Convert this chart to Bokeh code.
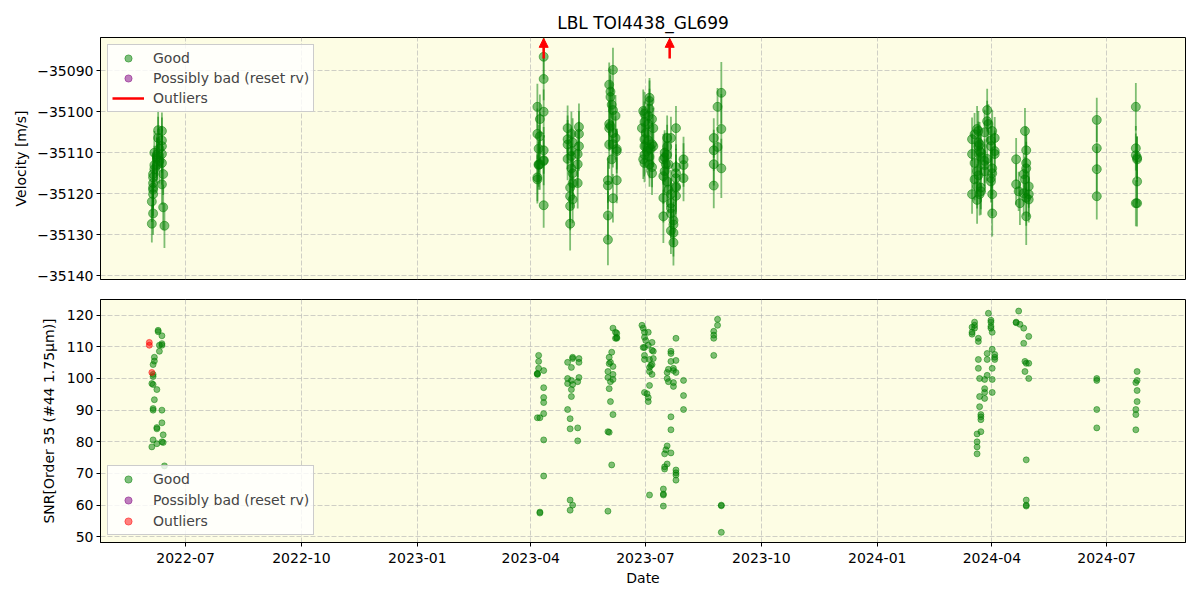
import numpy as np
import pandas as pd
from bokeh.plotting import figure
from bokeh.models import (ColumnDataSource, Range1d, FixedTicker, MonthsTicker,
                          DatetimeTickFormatter, Legend, LegendItem, Arrow, NormalHead)
from bokeh.layouts import column
from bokeh.embed import file_html
from bokeh.resources import INLINE

# ---------------- data ----------------
title_text = "LBL TOI4438_GL699"

# 2022 June block
dates_a = ["2022-06-09", "2022-06-09", "2022-06-12", "2022-06-12", "2022-06-12", "2022-06-10",
           "2022-06-10", "2022-06-06", "2022-06-06", "2022-06-05", "2022-06-05", "2022-06-05",
           "2022-06-04", "2022-06-05", "2022-06-08", "2022-06-06", "2022-06-05", "2022-06-05",
           "2022-06-12", "2022-06-12", "2022-06-08", "2022-06-08", "2022-06-13", "2022-06-05",
           "2022-06-08", "2022-06-12", "2022-06-13", "2022-06-04", "2022-06-14"]
rv_a = [-35104.5, -35106.4, -35104.7, -35108.4, -35110.3, -35112.0, -35109.0, -35110.0, -35113.0,
        -35115.2, -35117.4, -35120.1, -35121.9, -35119.0, -35111.5, -35114.0, -35116.0, -35118.5,
        -35112.5, -35107.0, -35111.0, -35113.0, -35115.2, -35124.8, -35110.5, -35117.7, -35123.3,
        -35127.3, -35127.8]
err_a = [4.8, 5.2, 4.5, 5.0, 4.6, 5.5, 4.9, 5.3, 4.7, 5.1, 4.6, 5.4, 5.0, 4.8, 5.2, 4.6, 5.0, 4.9,
         5.3, 5.6, 4.7, 4.5, 5.1, 5.2, 4.8, 5.0, 5.5, 4.6, 5.4]
snr_a = [115.2, 114.8, 113.5, 111.0, 110.5, 110.5, 108.6, 106.7, 105.5, 104.4, 101.3, 100.6, 98.4,
         98.1, 96.5, 93.3, 90.5, 90.0, 90.0, 86.0, 84.1, 84.5, 82.2, 80.6, 79.4, 80.0, 79.8, 78.4,
         72.4]

# 2023 April block
dates_b1 = ["2023-04-07", "2023-04-07", "2023-04-07", "2023-04-11", "2023-04-06", "2023-04-06",
            "2023-04-06", "2023-04-11", "2023-04-11", "2023-04-11", "2023-04-11", "2023-04-06",
            "2023-04-08", "2023-04-11", "2023-04-11", "2023-04-08", "2023-04-08"]
rv_b1 = [-35109.0, -35112.8, -35113.0, -35092.0, -35098.8, -35105.4, -35116.5, -35100.0, -35109.4,
         -35111.8, -35122.8, -35116.0, -35101.8, -35086.6, -35112.0, -35106.0, -35112.8]
err_b1 = [5.8, 5.5, 6.0, 5.2, 5.6, 6.2, 5.9, 5.4, 5.7, 6.1, 5.5, 5.8, 6.0, 5.5, 5.3, 5.9, 6.2]
snr_b1 = [107.3, 105.4, 103.2, 102.5, 101.6, 101.3, 101.5, 97.1, 94.0, 92.4, 88.9, 87.6, 87.6,
          80.6, 69.2, 57.8, 57.5]

# 2023 May block
dates_b2 = ["2023-04-30", "2023-04-30", "2023-04-30", "2023-04-30", "2023-05-02", "2023-05-02",
            "2023-05-02", "2023-05-02", "2023-05-03", "2023-05-03", "2023-05-03", "2023-05-03",
            "2023-05-04", "2023-05-04", "2023-05-04", "2023-05-04", "2023-05-08", "2023-05-08",
            "2023-05-08", "2023-05-09", "2023-05-09", "2023-05-09"]
rv_b2 = [-35104.0, -35106.7, -35111.5, -35108.0, -35120.6, -35123.0, -35127.3, -35118.5, -35105.4,
         -35109.6, -35110.8, -35113.8, -35121.4, -35115.0, -35117.4, -35107.5, -35110.3, -35112.8,
         -35117.4, -35103.7, -35105.4, -35108.4]
err_b2 = [5.5, 5.8, 5.2, 6.0, 6.3, 5.9, 6.5, 5.6, 5.4, 5.7, 6.0, 5.5, 5.8, 5.3, 6.1, 5.9, 5.6, 5.4,
          6.2, 5.7, 5.5, 6.0]
snr_b2 = [105.1, 100.0, 98.4, 90.2, 87.3, 84.1, 61.6, 58.4, 103.5, 99.4, 96.5, 94.3, 106.7, 106.3,
          98.1, 60.0, 99.0, 84.4, 80.3, 106.3, 105.1, 100.3]

# 2023 June block
dates_b3 = ["2023-06-01", "2023-06-01", "2023-06-01", "2023-06-01", "2023-06-02", "2023-06-02",
            "2023-06-02", "2023-06-02", "2023-06-03", "2023-06-03", "2023-06-03", "2023-06-04",
            "2023-06-04", "2023-06-05", "2023-06-05", "2023-06-05", "2023-06-05", "2023-06-05",
            "2023-06-07", "2023-06-07", "2023-06-08", "2023-06-08", "2023-06-08"]
rv_b3 = [-35116.7, -35118.0, -35125.3, -35131.2, -35093.4, -35103.0, -35104.0, -35108.0, -35095.1,
         -35096.4, -35103.5, -35098.3, -35111.6, -35089.8, -35099.6, -35105.2, -35121.1, -35107.9,
         -35101.0, -35106.4, -35109.1, -35109.6, -35116.7]
err_b3 = [5.5, 5.8, 6.0, 6.2, 5.4, 5.7, 5.5, 5.9, 5.6, 5.3, 5.8, 5.5, 6.0, 5.4, 5.6, 5.2, 5.9, 5.7,
          5.1, 5.3, 5.0, 5.4, 5.6]
snr_b3 = [102.2, 100.3, 83.2, 58.1, 106.7, 104.7, 96.8, 83.0, 105.1, 99.0, 92.7, 108.3, 72.7, 115.9,
          103.8, 101.3, 99.7, 88.6, 114.6, 112.7, 114.3, 113.0, 112.7]

# 2023 early July block
dates_b4 = ["2023-06-28", "2023-06-29", "2023-06-29", "2023-06-30", "2023-06-30", "2023-06-30",
            "2023-06-30", "2023-06-30", "2023-06-30", "2023-07-01", "2023-07-02", "2023-07-03",
            "2023-07-03", "2023-07-03", "2023-07-03", "2023-07-04", "2023-07-04", "2023-07-04",
            "2023-07-04", "2023-07-04", "2023-07-05", "2023-07-06", "2023-07-06", "2023-07-06",
            "2023-07-06", "2023-07-07", "2023-07-07"]
rv_b4 = [-35104.0, -35099.8, -35111.6, -35106.7, -35108.4, -35110.5, -35102.5, -35112.5, -35100.5,
         -35105.2, -35109.6, -35101.0, -35103.0, -35108.9, -35107.0, -35096.6, -35097.4, -35112.8,
         -35099.3, -35111.0, -35109.0, -35101.8, -35107.9, -35115.0, -35113.5, -35104.0, -35108.4]
err_b4 = [5.0, 5.2, 4.8, 5.1, 4.9, 5.3, 5.0, 4.7, 5.4, 5.1, 5.2, 4.9, 5.0, 5.3, 5.1, 4.8, 5.0, 5.5,
          4.9, 5.2, 5.0, 4.8, 5.1, 5.3, 4.9, 5.0, 5.2]
snr_b4 = [116.8, 115.9, 109.8, 114.6, 113.0, 109.8, 107.3, 106.0, 95.6, 112.0, 95.2, 114.6, 110.5,
          94.0, 92.7, 106.0, 103.5, 63.2, 102.2, 97.8, 104.1, 111.4, 108.9, 101.3, 104.4, 108.6,
          106.3]

# 2023 late July block
dates_b5 = ["2023-07-15", "2023-07-15", "2023-07-15", "2023-07-15", "2023-07-16", "2023-07-16",
            "2023-07-16", "2023-07-17", "2023-07-18", "2023-07-18", "2023-07-18", "2023-07-18",
            "2023-07-19", "2023-07-19", "2023-07-21", "2023-07-21", "2023-07-21", "2023-07-21",
            "2023-07-21", "2023-07-21", "2023-07-23", "2023-07-23", "2023-07-23", "2023-07-23",
            "2023-07-25", "2023-07-25", "2023-07-25", "2023-07-25", "2023-07-25", "2023-07-25",
            "2023-07-25", "2023-07-31", "2023-07-31", "2023-07-31"]
rv_b5 = [-35125.5, -35121.0, -35111.6, -35115.7, -35114.5, -35110.0, -35111.1, -35112.8, -35106.4,
         -35117.0, -35108.5, -35110.5, -35112.8, -35119.0, -35106.4, -35120.1, -35122.3, -35124.8,
         -35123.5, -35129.0, -35127.5, -35129.5, -35131.9, -35126.5, -35104.0, -35113.5, -35116.2,
         -35118.2, -35115.0, -35118.5, -35120.5, -35111.6, -35113.0, -35116.2]
err_b5 = [6.5, 6.0, 6.2, 6.8, 5.8, 5.5, 6.0, 5.7, 5.5, 6.2, 5.3, 5.4, 5.6, 5.8, 5.2, 5.9, 6.1, 6.0,
          6.3, 5.7, 5.5, 5.8, 5.6, 5.9, 5.4, 5.6, 5.8, 6.2, 6.0, 6.4, 6.1, 5.5, 5.3, 5.6]
snr_b5 = [65.1, 63.5, 63.2, 59.7, 76.2, 72.1, 71.4, 77.5, 78.7, 73.0, 101.9, 100.0, 102.9, 99.0,
          108.6, 107.9, 105.4, 87.9, 83.8, 76.5, 103.2, 102.5, 97.5, 98.7, 112.7, 105.7, 101.9,
          71.1, 70.2, 69.5, 67.9, 99.4, 94.6, 90.2]

# 2023 late August block
dates_c = ["2023-08-24", "2023-08-24", "2023-08-24", "2023-08-24", "2023-08-27", "2023-08-27",
           "2023-08-30", "2023-08-30", "2023-08-30"]
rv_c = [-35106.4, -35109.4, -35112.8, -35118.0, -35098.8, -35108.6, -35095.4, -35104.2, -35113.8]
err_c = [4.8, 5.0, 5.2, 5.5, 4.6, 4.9, 7.5, 8.5, 7.2]
snr_c = [114.9, 113.7, 112.7, 107.3, 118.7, 116.8, 60.0, 51.4, 59.8]

# 2024 March block
dates_d = ["2024-03-16", "2024-03-16", "2024-03-16", "2024-03-18", "2024-03-18", "2024-03-18",
           "2024-03-20", "2024-03-20", "2024-03-20", "2024-03-20", "2024-03-21", "2024-03-21",
           "2024-03-21", "2024-03-21", "2024-03-22", "2024-03-22", "2024-03-22", "2024-03-23",
           "2024-03-23", "2024-03-23", "2024-03-23", "2024-03-26", "2024-03-26", "2024-03-26",
           "2024-03-26", "2024-03-28", "2024-03-28", "2024-03-28", "2024-03-29", "2024-03-31",
           "2024-03-31", "2024-03-31", "2024-03-31", "2024-04-01", "2024-04-01", "2024-04-01",
           "2024-04-01", "2024-04-01", "2024-04-03", "2024-04-03", "2024-04-03"]
rv_d = [-35110.3, -35106.7, -35120.1, -35116.5, -35112.5, -35105.5, -35104.2, -35118.2, -35121.5,
        -35114.5, -35104.7, -35107.5, -35108.4, -35115.5, -35120.1, -35109.6, -35108.0, -35118.5,
        -35111.0, -35110.0, -35119.4, -35114.5, -35112.0, -35105.0, -35113.0, -35099.6, -35102.3,
        -35111.5, -35103.0, -35108.4, -35116.2, -35107.0, -35117.0, -35113.8, -35104.7, -35120.1,
        -35124.8, -35115.0, -35106.4, -35109.6, -35110.3]
err_d = [5.0, 5.3, 4.8, 5.1, 4.9, 5.2, 5.6, 5.4, 5.8, 5.5, 4.9, 5.1, 5.0, 5.3, 5.2, 5.4, 5.5, 5.3,
         5.6, 5.4, 5.7, 5.2, 5.3, 5.5, 5.1, 5.2, 5.0, 5.3, 4.8, 4.9, 5.0, 4.8, 5.1, 5.0, 5.2, 5.4,
         5.6, 5.3, 5.1, 5.0, 5.2]
snr_d = [114.0, 116.2, 114.6, 116.8, 115.9, 117.8, 82.5, 80.0, 78.4, 76.2, 112.7, 111.7, 106.0,
         103.2, 100.0, 94.3, 91.1, 88.6, 87.9, 87.0, 83.2, 99.7, 96.8, 95.6, 93.7, 107.9, 106.0,
         101.0, 120.6, 118.4, 117.8, 116.5, 115.9, 114.6, 109.2, 103.2, 99.7, 95.6, 107.6, 106.7,
         106.0]

# 2024 late April block
dates_d2 = ["2024-04-20", "2024-04-20", "2024-04-22", "2024-04-23", "2024-04-26", "2024-04-26",
            "2024-04-27", "2024-04-27", "2024-04-28", "2024-04-28", "2024-04-28", "2024-04-28",
            "2024-04-28", "2024-04-30", "2024-04-30", "2024-04-30"]
rv_d2 = [-35111.6, -35117.7, -35119.4, -35122.3, -35115.2, -35119.9, -35104.7, -35116.5, -35109.4,
         -35113.8, -35125.5, -35121.0, -35112.5, -35118.2, -35120.1, -35121.4]
err_d2 = [5.2, 5.0, 4.8, 5.3, 5.1, 5.4, 5.6, 5.5, 5.8, 6.5, 7.0, 6.8, 6.9, 5.2, 5.5, 5.6]
snr_d2 = [117.8, 117.6, 121.3, 117.1, 115.9, 111.1, 105.4, 102.2, 104.8, 74.3, 61.6, 60.0, 59.7,
          113.3, 104.8, 100.0]

# 2024 June / July single nights
dates_e = ["2024-06-23", "2024-06-23", "2024-06-23", "2024-06-23"]
rv_e = [-35114.0, -35102.0, -35120.6, -35108.9]
err_e = [5.5, 5.4, 5.7, 5.6]
snr_e = [100.0, 99.4, 90.2, 84.4]

dates_f = ["2024-07-24", "2024-07-24", "2024-07-24", "2024-07-24", "2024-07-25", "2024-07-25",
           "2024-07-25", "2024-07-25"]
rv_f = [-35108.9, -35110.6, -35122.3, -35098.8, -35111.2, -35111.6, -35117.0, -35122.3]
err_f = [5.4, 5.3, 5.6, 5.8, 5.2, 5.5, 5.4, 5.7]
snr_f = [98.7, 90.2, 88.6, 83.8, 102.2, 99.4, 96.2, 92.7]

# points flagged as outliers (SNR panel) and arrows for velocities off the top of the axis
outlier_dates = ["2022-06-02", "2022-06-02", "2022-06-04"]
outlier_snr = [111.4, 110.5, 101.9]
arrow_dates = ["2023-04-11", "2023-07-20"]

rv_ticks = [-35140, -35130, -35120, -35110, -35100, -35090]
snr_ticks = [50, 60, 70, 80, 90, 100, 110, 120]
rv_limits = (-35140.9, -35081.9)
snr_limits = (48.2, 124.95)
date_limits = ("2022-04-24 12:00", "2024-09-01 16:00")

# ---------------- assemble ----------------
dates = dates_a + dates_b1 + dates_b2 + dates_b3 + dates_b4 + dates_b5 + dates_c + dates_d + dates_d2 + dates_e + dates_f
rv = rv_a + rv_b1 + rv_b2 + rv_b3 + rv_b4 + rv_b5 + rv_c + rv_d + rv_d2 + rv_e + rv_f
rv_err = err_a + err_b1 + err_b2 + err_b3 + err_b4 + err_b5 + err_c + err_d + err_d2 + err_e + err_f
snr = snr_a + snr_b1 + snr_b2 + snr_b3 + snr_b4 + snr_b5 + snr_c + snr_d + snr_d2 + snr_e + snr_f
n = min(len(dates), len(rv), len(rv_err), len(snr))

t = pd.to_datetime(dates[:n]) + pd.Timedelta(hours=6)
rv_arr = np.array(rv[:n])
err_arr = np.array(rv_err[:n])
src = ColumnDataSource(dict(t=t, rv=rv_arr, lo=rv_arr - err_arr, hi=rv_arr + err_arr,
                            snr=np.array(snr[:n])))
out_src = ColumnDataSource(dict(t=pd.to_datetime(outlier_dates) + pd.Timedelta(hours=6),
                                snr=outlier_snr))
# one point far outside the visible range: gives legend-only renderers something to draw
dummy = ColumnDataSource(dict(t=[pd.Timestamp("2000-01-01")], y=[0.0]))

GREEN = "#008000"
PURPLE = "#800080"
RED = "#ff0000"
FONT = "DejaVu Sans"
BG = "#FDFDE4"

x_range = Range1d(start=pd.Timestamp(date_limits[0]), end=pd.Timestamp(date_limits[1]))
QUARTERS = [0, 3, 6, 9]   # Jan, Apr, Jul, Oct (0-based months)


def style(p):
    p.background_fill_color = BG
    p.border_fill_color = "white"
    p.outline_line_color = "black"
    p.outline_line_width = 1
    p.outline_line_alpha = 1
    for ax in p.axis:
        ax.axis_line_color = "black"
        ax.major_tick_line_color = "black"
        ax.major_tick_out = 4
        ax.major_tick_in = 0
        ax.minor_tick_line_color = None
        ax.major_label_text_font = FONT
        ax.major_label_text_font_size = "14px"
        ax.major_label_text_color = "black"
        ax.axis_label_text_font = FONT
        ax.axis_label_text_font_size = "14px"
        ax.axis_label_text_font_style = "normal"
        ax.axis_label_text_color = "black"
        ax.major_label_standoff = 3
    for g in p.grid:
        g.grid_line_color = "#b0b0b0"
        g.grid_line_alpha = 0.6
        g.grid_line_dash = "5 2"
        g.grid_line_width = 1
    p.xgrid.ticker = MonthsTicker(months=QUARTERS)


def style_legend(lg, spacing):
    lg.label_text_font = FONT
    lg.label_text_font_size = "14px"
    lg.border_line_color = "#cccccc"
    lg.border_line_alpha = 1
    lg.background_fill_color = "white"
    lg.background_fill_alpha = 0.8
    lg.padding = 4
    lg.spacing = spacing
    lg.label_height = 18
    lg.glyph_height = 18
    lg.glyph_width = 32
    lg.label_standoff = 9
    lg.margin = 7


# ---------------- top panel ----------------
p1 = figure(width=1188, height=289, x_range=x_range, y_range=Range1d(*rv_limits),
            x_axis_location=None, x_axis_type="datetime",
            output_backend="svg", toolbar_location=None, title=title_text,
            min_border_left=100, min_border_right=3, min_border_top=37, min_border_bottom=10)
style(p1)
p1.title.align = "center"
p1.title.text_font = FONT
p1.title.text_font_size = "17px"
p1.title.text_font_style = "normal"
p1.title.text_color = "black"
p1.yaxis.axis_label = "Velocity [m/s]"
p1.yaxis.ticker = FixedTicker(ticks=rv_ticks)
p1.yaxis.major_label_overrides = {v: "\u2212" + str(abs(v)) for v in rv_ticks}
p1.yaxis.axis_label_standoff = 5

p1.segment(x0="t", y0="lo", x1="t", y1="hi", source=src, line_color=GREEN,
           line_alpha=0.5, line_width=1.8)
r_good = p1.scatter("t", "rv", source=src, marker="circle", size=9, fill_color=GREEN,
                    fill_alpha=0.5, line_color=GREEN, line_alpha=0.5, line_width=1)

# legend-only glyphs (their single point lies outside the visible range)
r_gdot = p1.scatter("t", "y", source=dummy, marker="circle", size=9, fill_color=GREEN,
                    fill_alpha=0.5, line_color=GREEN, line_alpha=0.5)
r_bad = p1.scatter("t", "y", source=dummy, marker="circle", size=9, fill_color=PURPLE,
                   fill_alpha=0.5, line_color=PURPLE, line_alpha=0.5)
r_oline = p1.line("t", "y", source=dummy, line_color=RED, line_width=2.5)

arrow_ms = [pd.Timestamp(d + " 06:00").value / 1e6 for d in arrow_dates]
for xm in arrow_ms:
    p1.add_layout(Arrow(end=NormalHead(size=9, fill_color=RED, fill_alpha=1.0,
                                       line_color=RED, line_width=1),
                        x_start=xm, y_start=-35087.0, x_end=xm, y_end=-35082.1,
                        line_color=RED, line_width=2.5))

lg1 = Legend(items=[LegendItem(label="Good", renderers=[r_gdot]),
                    LegendItem(label="Possibly bad (reset rv)", renderers=[r_bad]),
                    LegendItem(label="Outliers", renderers=[r_oline])],
             location="top_left")
style_legend(lg1, 2)
p1.add_layout(lg1)

# ---------------- bottom panel ----------------
p2 = figure(width=1188, height=303, x_range=x_range, y_range=Range1d(*snr_limits),
            x_axis_type="datetime",
            output_backend="svg", toolbar_location=None,
            min_border_left=100, min_border_right=3, min_border_top=10, min_border_bottom=50)
style(p2)
p2.xaxis.ticker = MonthsTicker(months=QUARTERS)
p2.xaxis.formatter = DatetimeTickFormatter(months="%Y-%m", years="%Y-%m", days="%Y-%m")
p2.xaxis.major_label_standoff = 6
p2.yaxis.axis_label = "SNR[Order 35 (#44 1.75\u03bcm)]"
p2.yaxis.ticker = FixedTicker(ticks=snr_ticks)
p2.yaxis.axis_label_standoff = 7
p2.xaxis.axis_label = "Date"
p2.xaxis.axis_label_standoff = 4

s_good = p2.scatter("t", "snr", source=src, marker="circle", size=6, fill_color=GREEN,
                    fill_alpha=0.5, line_color=GREEN, line_alpha=0.5)
s_bad = p2.scatter("t", "y", source=dummy, marker="circle", size=6, fill_color=PURPLE,
                   fill_alpha=0.5, line_color=PURPLE, line_alpha=0.5)
s_out = p2.scatter("t", "snr", source=out_src, marker="circle", size=6, fill_color=RED,
                   fill_alpha=0.5, line_color=RED, line_alpha=0.5)

lg2 = Legend(items=[LegendItem(label="Good", renderers=[s_good]),
                    LegendItem(label="Possibly bad (reset rv)", renderers=[s_bad]),
                    LegendItem(label="Outliers", renderers=[s_out])],
             location="bottom_left")
style_legend(lg2, 3)
p2.add_layout(lg2)

layout = column(p1, p2, spacing=0)
open("out.html", "w").write(file_html(layout, INLINE))
